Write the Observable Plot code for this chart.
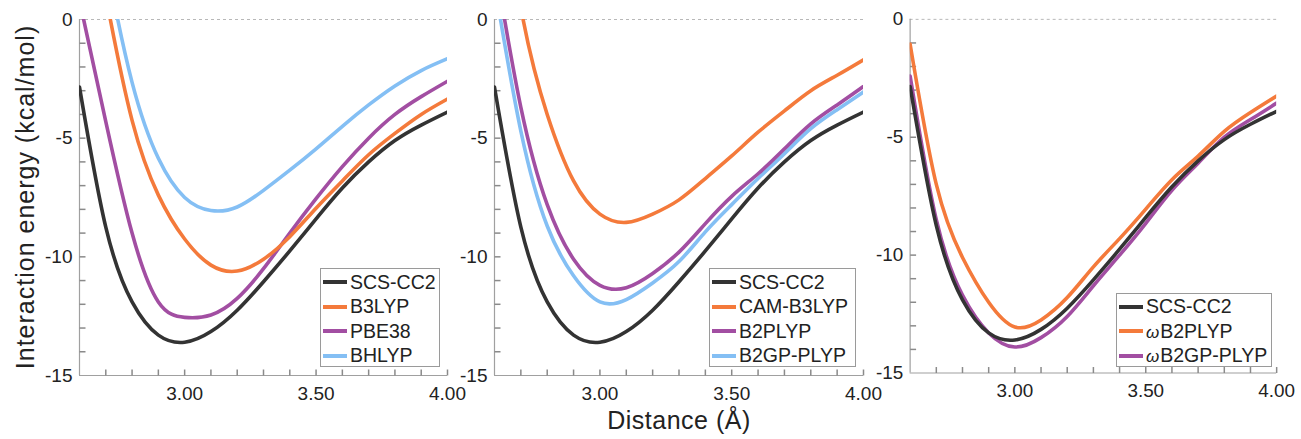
<!DOCTYPE html>
<html><head><meta charset="utf-8">
<script src="https://cdn.jsdelivr.net/npm/d3@7"></script>
<script src="https://cdn.jsdelivr.net/npm/@observablehq/plot@0.6"></script>
<style>
body{margin:0;background:#fff;font-family:"Liberation Sans",Arial,Helvetica,sans-serif;color:#222}
#wrap{position:relative;width:1301px;height:439px;overflow:hidden;background:#fff}
.panel{position:absolute;top:0}
.legend{position:absolute;border:1px solid #9a9a9a;background:#fff;box-sizing:border-box;padding:1px 0 0 2px;font-size:19.5px;color:#222}
.row{height:24.5px;display:flex;align-items:center;white-space:nowrap}
.sw{width:24px;height:4px;margin-right:3px;flex:none}
.om{font-style:italic;font-size:17px;margin-right:1px}
#ytitle{position:absolute;left:25px;top:197px;transform:translate(-50%,-50%) rotate(-90deg);font-size:25px;letter-spacing:1px;white-space:nowrap}
#xtitle{position:absolute;left:679px;top:406px;transform:translateX(-50%);font-size:25px;letter-spacing:0.5px;white-space:nowrap}
</style>
</head><body>
<div id="wrap">
  <div id="ytitle">Interaction energy (kcal/mol)</div>
  <div id="xtitle">Distance (Å)</div>
</div>
<script>
// ---- data ----
const distance = [2.6, 2.7, 2.8, 2.9, 3.0, 3.1, 3.2, 3.3, 3.4, 3.5, 3.6, 3.7, 3.8, 3.9, 4.0];
const scsCC2    = [-2.85, -8.75, -11.9, -13.3, -13.6, -13.15, -12.25, -11.05, -9.75, -8.4, -7.1, -6.0, -5.1, -4.45, -3.9];
const b3lyp     = [7, 1.0, -4.25, -7.4, -9.25, -10.35, -10.6, -10.1, -9.15, -7.95, -6.8, -5.7, -4.8, -4.0, -3.35];
const pbe38     = [0.8, -4.3, -9.0, -11.9, -12.55, -12.45, -11.75, -10.5, -9.0, -7.55, -6.2, -5.0, -4.0, -3.25, -2.6];
const bhlyp     = [9, 2.6, -2.65, -5.85, -7.5, -8.05, -7.9, -7.2, -6.35, -5.45, -4.5, -3.6, -2.8, -2.15, -1.65];
const camB3lyp  = [8, 0.5, -4.0, -6.8, -8.2, -8.55, -8.2, -7.6, -6.7, -5.75, -4.75, -3.85, -3.0, -2.35, -1.7];
const b2plyp    = [2.5, -3.7, -7.8, -10.1, -11.2, -11.3, -10.7, -9.8, -8.6, -7.45, -6.5, -5.45, -4.4, -3.6, -2.82];
const b2gpplyp  = [1.5, -4.7, -8.7, -10.8, -11.9, -11.8, -11.1, -10.2, -8.95, -7.8, -6.7, -5.65, -4.6, -3.8, -3.05];
const wb2plyp   = [-1.05, -7.0, -10.1, -12.0, -13.05, -12.75, -11.8, -10.5, -9.3, -8.05, -6.8, -5.8, -4.75, -3.95, -3.25];
const wb2gpplyp = [-2.4, -8.5, -11.7, -13.3, -13.9, -13.5, -12.6, -11.3, -10.0, -8.65, -7.25, -6.1, -5.0, -4.25, -3.55];

const xTickValues = [3.0, 3.5, 4.0];
const xMinorTicks = [2.7, 2.8, 2.9, 3.0, 3.1, 3.2, 3.3, 3.4, 3.5, 3.6, 3.7, 3.8, 3.9, 4.0];
const yTickValues = [0, -5, -10, -15];
const yMinorTicks = [-14, -13, -12, -11, -10, -9, -8, -7, -6, -5, -4, -3, -2, -1];

const C = {black: "#333333", orange: "#f47a3b", purple: "#a24ea2", blue: "#84bff4"};

const panels = [
  {left: 79, w: 368, legend: {left: 320, top: 268, width: 120, height: 99},
   series: [["SCS-CC2", scsCC2, C.black], ["B3LYP", b3lyp, C.orange], ["PBE38", pbe38, C.purple], ["BHLYP", bhlyp, C.blue]]},
  {left: 494.3, w: 369, legend: {left: 709, top: 268, width: 147, height: 99},
   series: [["SCS-CC2", scsCC2, C.black], ["CAM-B3LYP", camB3lyp, C.orange], ["B2PLYP", b2plyp, C.purple], ["B2GP-PLYP", b2gpplyp, C.blue]]},
  {left: 910, w: 369, legend: {left: 1116, top: 292.5, width: 156, height: 74.5},
   series: [["SCS-CC2", scsCC2, C.black], ["ωB2PLYP", wb2plyp, C.orange], ["ωB2GP-PLYP", wb2gpplyp, C.purple]]}
];

const wrap = document.getElementById("wrap");
const mL = 55, mR = 25, mT = 19, mB = 64, H = 439;
const xDomain = [2.6, 4.0], yDomain = [-15, 0];
const frameH = H - mT - mB;
const tickLen = 6;
const axisColor = "#a0a0a0";
const tickColor = "#8a8a8a";

panels.forEach(p => {
  const dxTick = tickLen * (xDomain[1] - xDomain[0]) / p.w;
  const dyTick = tickLen * (yDomain[1] - yDomain[0]) / frameH;
  const xTickRows = xMinorTicks.map(v => ({x1: v, x2: v, y1: yDomain[0], y2: yDomain[0] + dyTick}));
  const yTickRows = yMinorTicks.map(v => ({x1: xDomain[0], x2: xDomain[0] + dxTick, y1: v, y2: v}));
  const lineMarks = p.series.slice().reverse().map(([name, vals, color]) =>
    Plot.line(distance.map((d, i) => ({name, d, E: vals[i]})),
      {x: "d", y: "E", stroke: color, strokeWidth: 3.6, curve: "natural", clip: true}));
  const chart = Plot.plot({
    width: mL + p.w + mR, height: H,
    marginLeft: mL, marginRight: mR, marginTop: mT, marginBottom: mB,
    x: {domain: xDomain, label: null},
    y: {domain: yDomain, label: null},
    style: {background: "transparent", overflow: "visible", fontFamily: '"Liberation Sans", Arial, sans-serif', fontSize: "19px", color: "#222"},
    marks: [
      Plot.ruleY([0], {stroke: "#b8b8b8", strokeDasharray: "3,3", strokeWidth: 1}),
      Plot.ruleX([xDomain[0]], {stroke: axisColor, strokeWidth: 1.2}),
      Plot.ruleY([yDomain[0]], {stroke: axisColor, strokeWidth: 1.2}),
      Plot.link(xTickRows, {x1: "x1", x2: "x2", y1: "y1", y2: "y2", stroke: tickColor, strokeWidth: 1.5}),
      Plot.link(yTickRows, {x1: "x1", x2: "x2", y1: "y1", y2: "y2", stroke: tickColor, strokeWidth: 1.5}),
      Plot.axisX({ticks: xTickValues, tickFormat: d3.format(".2f"), tickSize: 0, tickPadding: 11, label: null, fontSize: 19}),
      Plot.axisY({ticks: yTickValues, tickFormat: d => String(d), tickSize: 0, tickPadding: 7, label: null, fontSize: 19}),
      ...lineMarks
    ]
  });
  const div = document.createElement("div");
  div.className = "panel";
  div.style.left = (p.left - mL) + "px";
  div.appendChild(chart);
  wrap.appendChild(div);

  const lg = document.createElement("div");
  lg.className = "legend";
  Object.assign(lg.style, {left: p.legend.left + "px", top: p.legend.top + "px", width: p.legend.width + "px", height: p.legend.height + "px"});
  p.series.forEach(([name, , color]) => {
    const row = document.createElement("div");
    row.className = "row";
    const sw = document.createElement("span");
    sw.className = "sw";
    sw.style.background = color;
    row.appendChild(sw);
    const t = document.createElement("span");
    if (name.startsWith("ω")) {
      const om = document.createElement("span");
      om.className = "om";
      om.textContent = "ω";
      t.appendChild(om);
      t.appendChild(document.createTextNode(name.slice(1)));
    } else {
      t.textContent = name;
    }
    row.appendChild(t);
    lg.appendChild(row);
  });
  wrap.appendChild(lg);
});
</script>
</body></html>
